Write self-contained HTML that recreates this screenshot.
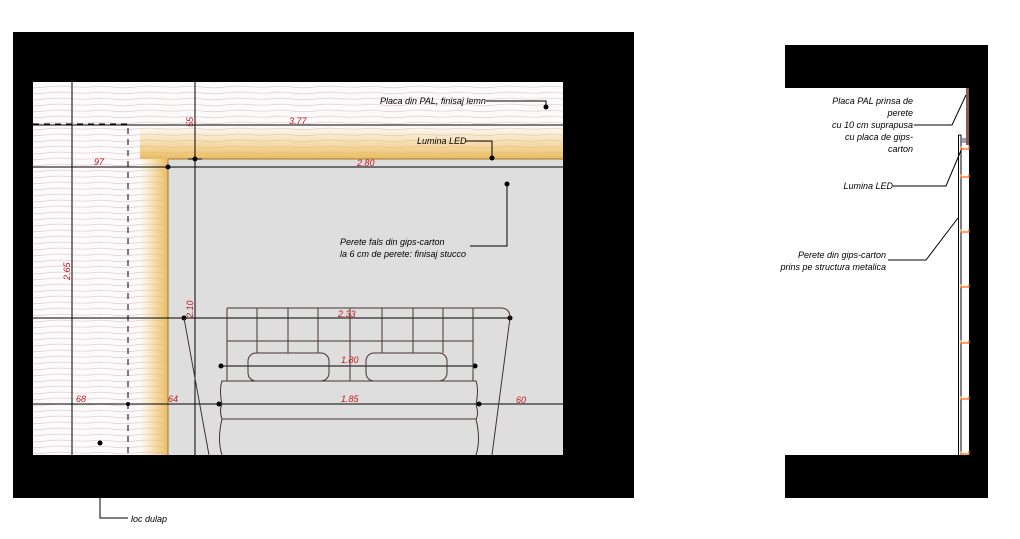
<!DOCTYPE html>
<html><head><meta charset="utf-8"><style>
html,body{margin:0;padding:0;background:#fff;}
svg{display:block;}
text{font-family:"Liberation Sans",sans-serif;font-style:italic;}
</style></head><body>
<svg width="1020" height="539" viewBox="0 0 1020 539" xmlns="http://www.w3.org/2000/svg">
<defs>
<pattern id="wood" width="90" height="6" patternUnits="userSpaceOnUse">
<rect width="90" height="6" fill="#fcfafa"/>
<path d="M0 3 Q11 1.5 22 3 T45 3 T68 2.5 T90 3" fill="none" stroke="#e2cfd3" stroke-width="0.7"/>
</pattern>
<linearGradient id="gl" x1="0" x2="1" y1="0" y2="0">
<stop offset="0" stop-color="#f3c766" stop-opacity="0"/>
<stop offset="1" stop-color="#e9b85a" stop-opacity="0.95"/>
</linearGradient>
<linearGradient id="gt" x1="0" x2="0" y1="0" y2="1">
<stop offset="0" stop-color="#f3c766" stop-opacity="0"/>
<stop offset="1" stop-color="#e9b85a" stop-opacity="0.95"/>
</linearGradient>
</defs>
<rect x="13" y="32" width="621" height="466" fill="#000"/>
<rect x="33" y="82" width="530" height="373" fill="url(#wood)"/>
<rect x="140" y="159" width="28" height="296" fill="url(#gl)"/>
<rect x="140" y="126" width="423" height="33" fill="url(#gt)"/>
<rect x="168" y="159" width="395" height="296" fill="#dedede"/>
<line x1="168" y1="159" x2="563" y2="159" stroke="#a07830" stroke-width="1"/>
<line x1="168" y1="159" x2="168" y2="455" stroke="#a07830" stroke-width="1"/>
<g stroke="#000" stroke-width="1" fill="none">
<line x1="33" y1="125" x2="563" y2="125"/>
<line x1="33" y1="167" x2="563" y2="167"/>
<line x1="72" y1="82" x2="72" y2="455"/>
<line x1="195" y1="82" x2="195" y2="455"/>
<line x1="33" y1="404" x2="563" y2="404"/>
<line x1="33" y1="318" x2="510" y2="318"/>
<line x1="220" y1="366" x2="477" y2="366"/>
<path d="M33 124 H128 V455" stroke-dasharray="6,5"/>
<line x1="188" y1="159" x2="202" y2="159"/>
</g>
<g fill="#000">
<circle cx="195" cy="159" r="2.5"/><circle cx="168" cy="167" r="2.5"/>
<circle cx="546" cy="107" r="2.5"/><circle cx="492" cy="158" r="2.5"/><circle cx="507" cy="184" r="2.5"/>
<circle cx="184" cy="318" r="2.5"/><circle cx="510" cy="318" r="2.5"/>
<circle cx="221" cy="366" r="2.5"/><circle cx="475" cy="366" r="2.5"/>
<circle cx="219" cy="404" r="2.5"/><circle cx="479" cy="404" r="2.5"/>
<circle cx="128" cy="404" r="2"/><circle cx="100" cy="443" r="2.5"/>
</g>
<g stroke="#4a3030" stroke-width="1" fill="none">
<path d="M184 318 L209 455"/><path d="M510 318 L492 455"/>
<path d="M227 308 H501 Q510 308 510 318"/>
<path d="M227 308 V381 M473 308 V381"/>
<path d="M227 341 H473"/>
<path d="M257 308 V353 M288 308 V353 M318 308 V353 M350 308 V381 M382 308 V353 M413 308 V353 M443 308 V353"/>
<rect x="248" y="353" width="81" height="28" rx="8"/>
<rect x="366" y="353" width="81" height="28" rx="8"/>
<path d="M222 381 H476 Q479 390 476 404 Q479 415 476 419 H222 Q219 410 222 404 Q219 390 222 381 Z"/>
<path d="M222 419 Q217 440 222 455 M476 419 Q481 440 476 455"/>
</g>
<g stroke="#000" fill="none" stroke-width="1">
<path d="M546 107 V101 H486"/>
<path d="M492 158 V141 H466"/>
<path d="M507 184 V246 H470"/>
<path d="M100 498 V518 H128"/>
</g>
<g font-size="9" fill="#c01820">
<text transform="translate(193,127) rotate(-90)">55</text>
<text x="289" y="124">3.77</text>
<text x="94" y="165">97</text>
<text x="357" y="166">2.80</text>
<text transform="translate(70,280) rotate(-90)">2.65</text>
<text transform="translate(193,318) rotate(-90)">2.10</text>
<text x="338" y="317">2.33</text>
<text x="341" y="363">1.80</text>
<text x="341" y="402">1.85</text>
<text x="76" y="402">68</text>
<text x="168" y="402">64</text>
<text x="516" y="403">60</text>
</g>
<g font-size="9" fill="#000">
<text x="380" y="104">Placa din PAL, finisaj lemn</text>
<text x="417" y="144">Lumina LED</text>
<text x="340" y="245">Perete fals din gips-carton</text>
<text x="340" y="257">la 6 cm de perete: finisaj stucco</text>
<text x="131" y="522">loc dulap</text>
</g>
<rect x="785" y="45" width="203" height="43" fill="#000"/>
<rect x="969" y="45" width="19" height="453" fill="#000"/>
<rect x="785" y="455" width="203" height="43" fill="#000"/>
<rect x="966" y="88" width="3" height="57" fill="#8a5a5a"/>
<g stroke="#000" fill="none" stroke-width="1">
<line x1="958.5" y1="135" x2="958.5" y2="455"/>
<line x1="961" y1="135" x2="961" y2="455"/>
<line x1="958.5" y1="135" x2="961" y2="135"/>
<path d="M914 125 H952 L966 95"/>
<path d="M893 186 H946 L962 148"/>
<path d="M888 260 H926 L958 218"/>
</g>
<g stroke="#ff6a10" fill="none" stroke-width="1.2">
<path d="M961 146 V149 H969 V146"/>
<path d="M961 174 V177 H969 V174"/>
<path d="M961 229 V232 H969 V229"/>
<path d="M961 284 V287 H969 V284"/>
<path d="M961 340 V343 H969 V340"/>
<path d="M961 396 V399 H969 V396"/>
<path d="M961 451 V454 H969 V451"/>
</g>
<rect x="962" y="138" width="4" height="5" fill="#9aa0c0"/>
<g font-size="9" fill="#000" text-anchor="end">
<text x="913" y="104">Placa PAL prinsa de</text>
<text x="913" y="116">perete</text>
<text x="913" y="128">cu 10 cm suprapusa</text>
<text x="913" y="140">cu placa de gips-</text>
<text x="913" y="152">carton</text>
<text x="893" y="189">Lumina LED</text>
<text x="886" y="258">Perete din gips-carton</text>
<text x="886" y="270">prins pe structura metalica</text>
</g>
</svg>
</body></html>
